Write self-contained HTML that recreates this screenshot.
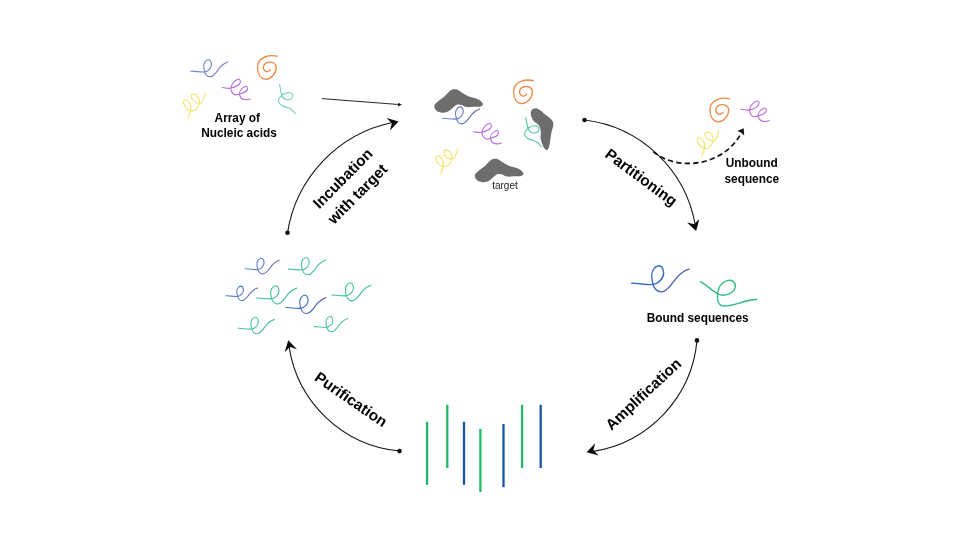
<!DOCTYPE html>
<html>
<head>
<meta charset="utf-8">
<title>SELEX cycle</title>
<style>
html,body{margin:0;padding:0;background:#fff;}
body{width:960px;height:540px;overflow:hidden;}
svg{display:block;}
text{filter:grayscale(1);}
text{font-family:"Liberation Sans",sans-serif;}
.b{font-weight:bold;fill:#000;}
.sq{fill:none;stroke-linecap:round;stroke-linejoin:round;}
</style>
</head>
<body>
<svg width="960" height="540" viewBox="0 0 960 540">
<defs>
  <linearGradient id="gb" x1="0" y1="0" x2="1" y2="0"><stop offset="0" stop-color="#5b8ad6"/><stop offset="0.5" stop-color="#5f78c4"/><stop offset="1" stop-color="#60609c"/></linearGradient>
  <linearGradient id="gb2" x1="0" y1="0" x2="1" y2="0"><stop offset="0" stop-color="#6f8fd4"/><stop offset="0.5" stop-color="#6a7cc0"/><stop offset="1" stop-color="#8a86d6"/></linearGradient>
  <linearGradient id="gb3" x1="0" y1="0" x2="1" y2="0"><stop offset="0" stop-color="#3f78cc"/><stop offset="0.6" stop-color="#3f66c0"/><stop offset="1" stop-color="#5a5ab8"/></linearGradient>
  <path id="e" vector-effect="non-scaling-stroke" d="M0,0 C4.5,-0.3 9,1.2 13.5,0.8 C17.5,0.4 21,-3.5 20.7,-7 C20.4,-10 19,-11.5 17.5,-11.4 C15,-11.2 12.8,-8 13,-4.5 C13.2,-1 13.8,1.5 15.2,3.5 C16.5,5.3 18.5,5.8 20.3,5.4 C24,4.5 26.5,-0.5 29.5,-4 C32,-6.8 34.5,-8.3 37.2,-9.2"/>
  <path id="ee" d="M0,0 C3,0.2 5,1.2 8,0.8 C12,0.3 18.5,-3 18.1,-6 C17.8,-8.5 16,-8.6 14.5,-7.8 C11,-6 7.5,-1 9,3 C10,6 12,7.8 14.5,7.3 C19,6.3 25.5,4 25.2,1 C25,-1.5 23.5,-1.6 22,-0.8 C19,1 16.3,4.5 17.5,8 C18.5,11 21.5,12.3 24,12.2 C26,12.1 27,11.7 28.1,11.25"/>
  <path id="yy" d="M188.3,118.7 C189,116 190,113.5 190.6,111 C191.3,108 190.8,105 189.5,103 C188,100.5 185.5,99.3 184.2,100.3 C182.5,101.7 184,105.5 186,108 C188,110.3 191,111.5 194,110.5 C197,109.5 199.5,105.5 199.5,101.5 C199.5,97.5 196.5,94 193.5,94.3 C190.5,94.6 191,98 193,100.5 C195,103 198.5,104.2 201,102.5 C203.5,100.5 204.5,96.5 205,92.7"/>
  <path id="sp" d="M9.6,-14.6 C5.5,-15.5 1.5,-15.3 -1.5,-14.3 C-7.5,-12.3 -10.2,-8.8 -10,-3.3 C-9.8,3.2 -7,8.2 -2,8.4 C3.5,8.6 8.8,2.2 8.7,-3.3 C8.6,-7.3 5.5,-8.8 1.7,-8.7 C-2,-8.5 -4.3,-5.8 -4.2,-3.3 C-4.1,-0.8 -2,1 0,0.9 C1.5,0.8 2.5,-0.1 2.9,-1.2"/>
  <path id="gl" d="M0,0 C0.7,3.7 1.2,7.7 2.1,10.7 C2.9,13.2 4.4,14.7 6.4,15.2 C9.4,15.9 12.9,15.2 13.3,11.7 C13.6,9.2 10.9,8 8.4,8.3 C5.4,8.7 1.4,11.2 -0.3,13.7 C-2.1,16.2 -1.1,19.2 1.9,21 C4.9,22.7 8.4,23 10.9,24.5 C12.9,25.7 14.4,27.7 15.8,29.5"/>
  <path id="ge" d="M0,0 C6,3 11,9 17.8,12.5 C24,15.5 34.3,11 34.8,5 C35.2,0 31,-2 27.8,-1.3 C23.5,-0.4 19.5,2.5 18,8 C16.8,12.5 16.5,17 17.8,20.5 C19,23.5 22.5,24.6 26.2,24.2 C31,23.7 35,22.5 39.5,21.2 C45,19.5 50,17.6 56.2,17.8"/>
  <path id="blob" d="M0.3,17 C0.6,14.5 5,11.5 9.3,8.5 C12.5,6 14,3.5 16,1.8 C18,0.3 20,0 21.8,0.3 C24,0.6 26,2.5 27.7,3.5 C30,5 32,6.3 34.3,7.25 C37,8.4 40,8.7 42.7,9.75 C45,10.7 47,12 47.7,13.1 C48.7,14.5 49.2,15 48.9,15.6 C48.5,16.8 47.5,17.5 46,17.7 C44,18 41.5,17.7 39.3,17.7 C37,17.7 35,18.3 32.7,18.1 C30.5,17.9 29.5,16.5 27.7,16 C26.5,15.5 25,15.2 23.5,15.6 C21.5,16.2 20,17.8 18.5,18.9 C17,20 15.5,21.8 13.5,22.7 C11.5,23.5 9.5,24 7.7,23.7 C5.5,23.4 4,22.8 2.7,21.8 C1.5,20.8 0.1,19 0.3,17 Z"/>
</defs>

<!-- top-left array of nucleic acids -->
<use href="#e" class="sq" stroke="url(#gb2)" stroke-width="1.1" transform="translate(190.7,71.2)"/>
<use href="#ee" class="sq" stroke="#b76ce0" stroke-width="1.1" transform="translate(222.3,87.5)"/>
<use href="#yy" class="sq" stroke="#f3e36a" stroke-width="1.1"/>
<use href="#sp" class="sq" stroke="#ee8a45" stroke-width="1.35" transform="translate(267.5,70.8)"/>
<use href="#gl" class="sq" stroke="#6fd3b8" stroke-width="1.1" transform="translate(279.6,84.3)"/>
<text class="b" x="237.3" y="121.5" font-size="11.85" text-anchor="middle">Array of</text>
<text class="b" x="239" y="137.2" font-size="11.85" text-anchor="middle">Nucleic acids</text>

<!-- straight arrow -->
<line x1="321.8" y1="98.6" x2="400" y2="104.6" stroke="#111" stroke-width="0.9"/>
<path d="M401.8,104.8 L398.3,102.7 L398,106.4 Z" fill="#111"/>

<!-- center cluster -->
<use href="#blob" fill="#6d6d6d" transform="translate(434,89)"/>
<use href="#blob" fill="#6d6d6d" transform="translate(474.5,158.5)"/>
<path fill="#6d6d6d" d="M535.8,108.3 C532.5,108 530.3,111 530.8,114.5 C531.3,118 533.5,121.5 536.5,123.3 C539.5,125 540.5,128 540.8,131.7 C541,135 540,137.5 541,140 C542,143 543.5,149 546.5,150 C548.5,150.3 549.3,146 550,141.7 C550.8,137 551,134 552,130 C553,127 554,124.5 553,122 C551.5,118.5 548.5,117 545.8,115 C542.5,112.5 539.5,108.8 535.8,108.3 Z"/>
<use href="#e" class="sq" stroke="url(#gb)" stroke-width="1.1" transform="translate(442.5,118.3)"/>
<use href="#ee" class="sq" stroke="#b76ce0" stroke-width="1.1" transform="translate(473.3,131.7)"/>
<use href="#yy" class="sq" stroke="#f3e36a" stroke-width="1.1" transform="translate(252.5,55.8)"/>
<use href="#sp" class="sq" stroke="#ee8a45" stroke-width="1.35" transform="translate(523.7,95.2)"/>
<use href="#gl" class="sq" stroke="#4fc8a0" stroke-width="1.1" transform="translate(525.8,117.5)"/>
<text x="505" y="188.5" font-size="10" text-anchor="middle" fill="#222">target</text>

<!-- unbound -->
<use href="#sp" class="sq" stroke="#ee8a45" stroke-width="1.35" transform="translate(720,113.4)"/>
<use href="#ee" class="sq" stroke="#b76ce0" stroke-width="1.1" transform="translate(741,109.3)"/>
<use href="#yy" class="sq" stroke="#f3e36a" stroke-width="1.1" transform="translate(513.7,37.7)"/>
<path d="M653.3,151.7 C677.9,172.2 724,165.9 741.3,133" fill="none" stroke="#111" stroke-width="1.7" stroke-dasharray="5.3,3.2"/>
<path d="M743.7,128.2 L737.4,131 L741.2,132.7 L744.2,135.6 Z" fill="#111"/>
<text class="b" x="751.8" y="166.8" font-size="11.85" text-anchor="middle">Unbound</text>
<text class="b" x="751.8" y="183.2" font-size="11.85" text-anchor="middle">sequence</text>

<!-- bound sequences -->
<use href="#e" class="sq" stroke="url(#gb3)" stroke-width="1.4" transform="translate(631.7,283.3) scale(1.54)"/>
<use href="#ge" class="sq" stroke="#2fba80" stroke-width="1.4" transform="translate(700.5,281.7)"/>
<text class="b" x="697.7" y="322" font-size="11.85" text-anchor="middle">Bound sequences</text>

<!-- left cluster -->
<g stroke-width="1.1" class="sq">
<use href="#e" stroke="url(#gb)" transform="translate(245,268.8) scale(0.92)"/>
<use href="#e" stroke="#4cc596" transform="translate(288.3,269.2) scale(1.01)"/>
<use href="#e" stroke="url(#gb)" transform="translate(225.8,295.8) scale(0.85)"/>
<use href="#e" stroke="#3fc38e" transform="translate(256.7,298) scale(1.075)"/>
<use href="#e" stroke="url(#gb3)" transform="translate(285.8,307.5) scale(1.075)"/>
<use href="#e" stroke="#3fc38e" transform="translate(331.7,295) scale(1.05)"/>
<use href="#e" stroke="#4cc596" transform="translate(238.3,328.3) scale(0.97)"/>
<use href="#e" stroke="#4cc596" transform="translate(314.2,326.7) scale(0.9)"/>
</g>

<!-- vertical lines -->
<g stroke-width="2.3" stroke-linecap="butt">
<line x1="427.1" y1="421.8" x2="427.1" y2="484.9" stroke="#24b86c"/>
<line x1="447.3" y1="404.8" x2="447.3" y2="468" stroke="#24b86c"/>
<line x1="464" y1="421.8" x2="464" y2="484.9" stroke="#1a55aa"/>
<line x1="480.4" y1="428.9" x2="480.4" y2="492" stroke="#24b86c"/>
<line x1="503.5" y1="424" x2="503.5" y2="487.2" stroke="#1a55aa"/>
<line x1="522.1" y1="404.8" x2="522.1" y2="468" stroke="#24b86c"/>
<line x1="540.7" y1="404.8" x2="540.7" y2="468" stroke="#1a55aa"/>
</g>

<!-- arcs -->
<path d="M287.50,232.80 A133.83,133.83 0 0 1 392.31,122.56" fill="none" stroke="#111" stroke-width="1.05"/>
<path d="M398.60,121.40 L389.96,130.39 L391.85,123.24 L386.59,118.05 Z" fill="#0a0a0a"/>
<circle cx="287.5" cy="232.8" r="2.3" fill="#111"/>
<path d="M584.50,120.00 A127.86,127.86 0 0 1 695.19,224.67" fill="none" stroke="#111" stroke-width="1.05"/>
<path d="M696.15,231.00 L687.02,222.51 L694.20,224.28 L699.32,218.94 Z" fill="#0a0a0a"/>
<circle cx="584.5" cy="120.0" r="2.3" fill="#111"/>
<path d="M697.00,340.40 A123.51,123.51 0 0 1 592.95,451.38" fill="none" stroke="#111" stroke-width="1.05"/>
<path d="M586.60,452.20 L595.22,443.19 L593.35,450.35 L598.61,455.54 Z" fill="#0a0a0a"/>
<circle cx="697.0" cy="340.4" r="2.3" fill="#111"/>
<path d="M399.50,451.10 A123.40,123.40 0 0 1 289.09,346.65" fill="none" stroke="#111" stroke-width="1.05"/>
<path d="M288.30,340.30 L297.04,349.19 L289.95,347.10 L284.60,352.21 Z" fill="#0a0a0a"/>
<circle cx="399.5" cy="451.1" r="2.3" fill="#111"/>

<!-- arc labels -->
<text class="b" font-size="15.3" text-anchor="middle" transform="translate(346.4,182.1) rotate(-45.2)">Incubation</text>
<text class="b" font-size="15.3" text-anchor="middle" transform="translate(361.2,197.6) rotate(-45.2)">with target</text>
<text class="b" font-size="15.3" text-anchor="middle" transform="translate(638.1,181.6) rotate(36.5)">Partitioning</text>
<text class="b" font-size="15.3" text-anchor="middle" transform="translate(646.8,397.9) rotate(-43)">Amplification</text>
<text class="b" font-size="15.3" text-anchor="middle" transform="translate(348,403.7) rotate(34.6)">Purification</text>
</svg>
</body>
</html>
